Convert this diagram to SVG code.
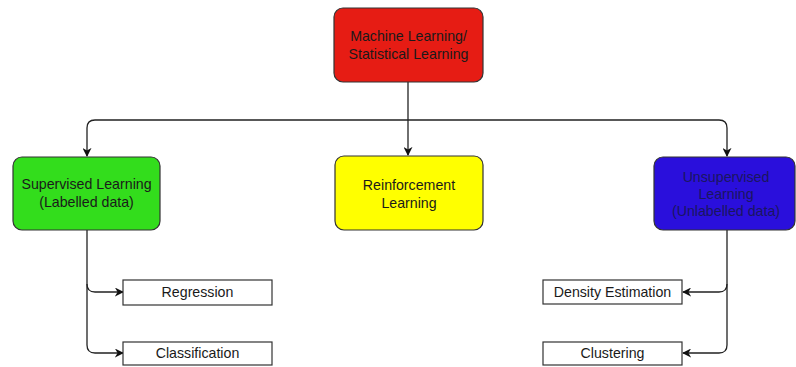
<svg xmlns="http://www.w3.org/2000/svg" width="796" height="367" viewBox="0 0 796 367">
  <style>
    .box { stroke: #333; stroke-width: 1.2; }
    .leaf { fill: #fff; stroke: #333; stroke-width: 1.2; }
    .lbl { font-family: "Liberation Sans", Arial, sans-serif; font-size: 14.2px; fill: #1a1a1a; text-anchor: middle; }
    .wire { fill: none; stroke: #222; stroke-width: 1.3; }
  </style>
  <defs>
    <marker id="arrow" viewBox="0 0 10 10" refX="9" refY="5" markerWidth="9" markerHeight="9" orient="auto" markerUnits="userSpaceOnUse">
      <path d="M0,0 L10,5 L0,10 L3,5 Z" fill="#111"/>
    </marker>
  </defs>
  <rect width="796" height="367" fill="#fff"/>

  <g id="connectors">
    <!-- root to the three branches -->
    <path class="wire" d="M408,82 V120"/>
    <path class="wire" d="M408,120 H95 Q87,120 87,128 V156" marker-end="url(#arrow)"/>
    <path class="wire" d="M408,120 V155" marker-end="url(#arrow)"/>
    <path class="wire" d="M408,120 H719 Q727,120 727,128 V156" marker-end="url(#arrow)"/>
    <!-- supervised children -->
    <path class="wire" d="M87,230 V284 Q87,292 95,292 H123" marker-end="url(#arrow)"/>
    <path class="wire" d="M87,284 V345 Q87,353 95,353 H123" marker-end="url(#arrow)"/>
    <!-- unsupervised children -->
    <path class="wire" d="M727,230 V284 Q727,292 719,292 H683" marker-end="url(#arrow)"/>
    <path class="wire" d="M727,284 V345 Q727,353 719,353 H683" marker-end="url(#arrow)"/>
  </g>

  <g id="root">
    <rect class="box" x="334" y="8" width="149" height="74" rx="9" fill="#e61c14"/>
    <text class="lbl" x="408.5" y="41">Machine Learning/</text>
    <text class="lbl" x="408.5" y="59">Statistical Learning</text>
  </g>

  <g id="supervised">
    <rect class="box" x="13" y="157" width="147" height="73" rx="9" fill="#33dd1c"/>
    <text class="lbl" x="86.5" y="189">Supervised Learning</text>
    <text class="lbl" x="86.5" y="207">(Labelled data)</text>
  </g>

  <g id="reinforcement">
    <rect class="box" x="335" y="156" width="148" height="74" rx="9" fill="#ffff00"/>
    <text class="lbl" x="409" y="190">Reinforcement</text>
    <text class="lbl" x="409" y="208">Learning</text>
  </g>

  <g id="unsupervised">
    <rect class="box" x="654" y="157" width="141" height="73" rx="9" fill="#2a0fdc"/>
    <text class="lbl" x="726" y="182" style="fill:#1a1660">Unsupervised</text>
    <text class="lbl" x="726" y="199" style="fill:#1a1660">Learning</text>
    <text class="lbl" x="726" y="216" style="fill:#1a1660">(Unlabelled data)</text>
  </g>

  <g id="regression">
    <rect class="leaf" x="123" y="280" width="149" height="25"/>
    <text class="lbl" x="197.5" y="297">Regression</text>
  </g>

  <g id="classification">
    <rect class="leaf" x="123" y="342" width="149" height="23"/>
    <text class="lbl" x="197.5" y="358">Classification</text>
  </g>

  <g id="density">
    <rect class="leaf" x="543" y="280" width="139" height="24"/>
    <text class="lbl" x="612.5" y="297">Density Estimation</text>
  </g>

  <g id="clustering">
    <rect class="leaf" x="543" y="342" width="139" height="23"/>
    <text class="lbl" x="612.5" y="358">Clustering</text>
  </g>
</svg>
